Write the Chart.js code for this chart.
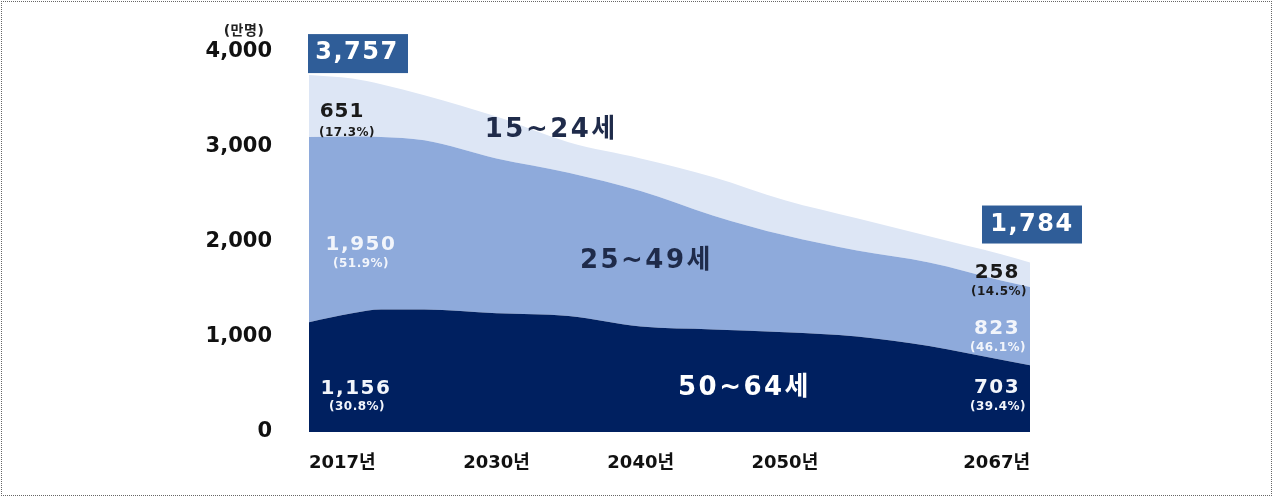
<!DOCTYPE html>
<html>
<head>
<meta charset="utf-8">
<script src="https://cdn.jsdelivr.net/npm/chart.js@4.4.1/dist/chart.umd.min.js"></script>
<style>
  html, body { margin: 0; padding: 0; background: #fff; }
  #wrap { position: relative; width: 1273px; height: 497px; }
  #frame { position: absolute; left: 1px; top: 1px; right: 1px; bottom: 1px; border: 1px dotted #666; pointer-events: none; }
</style>
</head>
<body>
<div id="wrap">
  <canvas id="chart" width="1273" height="497"></canvas>
  <div id="frame"></div>
</div>
<script>
// working-age population by age group (10k persons)
const years = [2017, 2020, 2022, 2025, 2030, 2035, 2040, 2045, 2050, 2055, 2060, 2065, 2067];
const age50to64 = [1156, 1250, 1290, 1290, 1250, 1220, 1110, 1080, 1050, 1005, 905, 760, 703];
const age25to49 = [1950, 1860, 1815, 1780, 1630, 1510, 1427, 1200, 1020, 905, 880, 835, 823];
const age15to24 = [651, 610, 555, 475, 440, 320, 343, 405, 370, 340, 275, 275, 258];

const seriesNames = ['50~64세', '25~49세', '15~24세'];
const seriesColors = ['#002060', '#8eaadb', '#dde6f5'];
const xTickYears = [2017, 2030, 2040, 2050, 2067];
const yTicks = [0, 1000, 2000, 3000, 4000];
const unitLabel = '(만명)';

const FONT = "'DejaVu Sans', 'Noto Sans CJK KR', sans-serif";

function pts(arr) {
  return years.map((yr, i) => ({ x: yr, y: arr[i] }));
}

function fmt(v) {
  return v.toLocaleString('en-US');
}

function pct(v, total) {
  return '(' + (v / total * 100).toFixed(1) + '%)';
}

function text(ctx, str, x, y, size, color, spacing) {
  ctx.save();
  ctx.font = 'bold ' + size + 'px ' + FONT;
  ctx.fillStyle = color;
  ctx.textAlign = 'center';
  ctx.textBaseline = 'middle';
  ctx.letterSpacing = (spacing || 0) + 'px';
  ctx.fillText(str, x, y);
  ctx.restore();
}

// value labels, total boxes and group names on top of the areas
const areaLabels = {
  id: 'areaLabels',
  afterDatasetsDraw(chart) {
    const { ctx, scales, chartArea } = chart;
    const xs = scales.x, ys = scales.y;
    const ends = [
      { i: 0, side: 1 },
      { i: years.length - 1, side: -1 }
    ];

    ends.forEach(({ i, side }) => {
      const px = xs.getPixelForValue(years[i]);
      const a = age50to64[i], b = age25to49[i], c = age15to24[i];
      const total = a + b + c;
      const midC = ys.getPixelForValue(a + b + c / 2);
      const midB = ys.getPixelForValue(a + b / 2);
      const midA = ys.getPixelForValue(a / 2);
      const top = ys.getPixelForValue(total);

      if (side > 0) {
        text(ctx, fmt(c), px + 33, midC + 6, 20, '#1a1a1a', 1);
        text(ctx, pct(c, total), px + 38, midC + 27, 12, '#1a1a1a', 0.5);
        text(ctx, fmt(b), px + 52, midB + 15, 20, '#f2f5fb', 1.5);
        text(ctx, pct(b, total), px + 52, midB + 34, 12, '#f2f5fb', 0.5);
        text(ctx, fmt(a), px + 47, midA + 12, 20, '#f2f5fb', 1.5);
        text(ctx, pct(a, total), px + 48, midA + 30, 12, '#f2f5fb', 0.5);

        ctx.fillStyle = '#2f5d98';
        ctx.fillRect(px - 1, top - 41, 100, 39);
        text(ctx, fmt(total), px + 48, top - 22, 24, '#ffffff', 1.5);
      } else {
        text(ctx, fmt(c), px - 33, midC - 2, 20, '#1a1a1a', 1);
        text(ctx, pct(c, total), px - 31, midC + 17, 12, '#1a1a1a', 0.5);
        text(ctx, fmt(b), px - 33, midB + 3, 20, '#f2f5fb', 1.5);
        text(ctx, pct(b, total), px - 32, midB + 22, 12, '#f2f5fb', 0.5);
        text(ctx, fmt(a), px - 33, midA - 11, 20, '#f2f5fb', 1.5);
        text(ctx, pct(a, total), px - 32, midA + 8, 12, '#f2f5fb', 0.5);

        ctx.fillStyle = '#2f5d98';
        ctx.fillRect(px - 48, top - 57, 100, 38);
        text(ctx, fmt(total), px + 2, top - 38, 24, '#ffffff', 1.5);
      }
    });

    // group names inside the bands
    text(ctx, seriesNames[2], xs.getPixelForValue(2033.8), ys.getPixelForValue(3176), 26, '#1f2b4a', 2.5);
    text(ctx, seriesNames[1], xs.getPixelForValue(2040.4), ys.getPixelForValue(1797), 26, '#1f2b4a', 2.5);
    text(ctx, seriesNames[0], xs.getPixelForValue(2047.2), ys.getPixelForValue(460), 26, '#ffffff', 2.5);

    // unit above the value axis
    text(ctx, unitLabel, chartArea.left - 65, ys.getPixelForValue(yTicks[yTicks.length - 1]) - 21, 14, '#222', 0.5);
  }
};

new Chart(document.getElementById('chart'), {
  type: 'line',
  data: {
    datasets: [
      { label: seriesNames[0], data: pts(age50to64), backgroundColor: seriesColors[0], fill: 'origin' },
      { label: seriesNames[1], data: pts(age25to49), backgroundColor: seriesColors[1], fill: '-1' },
      { label: seriesNames[2], data: pts(age15to24), backgroundColor: seriesColors[2], fill: '-1' }
    ].map(ds => Object.assign(ds, {
      borderWidth: 0,
      borderColor: ds.backgroundColor,
      pointRadius: 0,
      cubicInterpolationMode: 'monotone'
    }))
  },
  options: {
    responsive: false,
    animation: false,
    events: [],
    layout: { padding: { top: 52, right: 243, left: 0, bottom: 0 } },
    plugins: { legend: { display: false }, tooltip: { enabled: false } },
    scales: {
      x: {
        type: 'linear',
        min: years[0],
        max: years[years.length - 1],
        grid: { display: false, drawTicks: false },
        border: { display: false },
        afterBuildTicks: s => { s.ticks = xTickYears.map(v => ({ value: v })); },
        afterFit: s => { s.height = 65; },
        ticks: {
          align: 'inner',
          padding: 21,
          color: '#111',
          font: { family: FONT, size: 18, weight: 'bold' },
          callback: v => v + '년'
        }
      },
      y: {
        stacked: true,
        min: 0,
        max: 4000,
        grid: { display: false, drawTicks: false },
        border: { display: false },
        afterBuildTicks: s => { s.ticks = yTicks.map(v => ({ value: v })); },
        afterFit: s => { s.width = 309; },
        ticks: {
          padding: 37,
          color: '#111',
          font: { family: FONT, size: 21, weight: 'bold' },
          callback: v => fmt(v)
        }
      }
    }
  },
  plugins: [areaLabels]
});
</script>
</body>
</html>
